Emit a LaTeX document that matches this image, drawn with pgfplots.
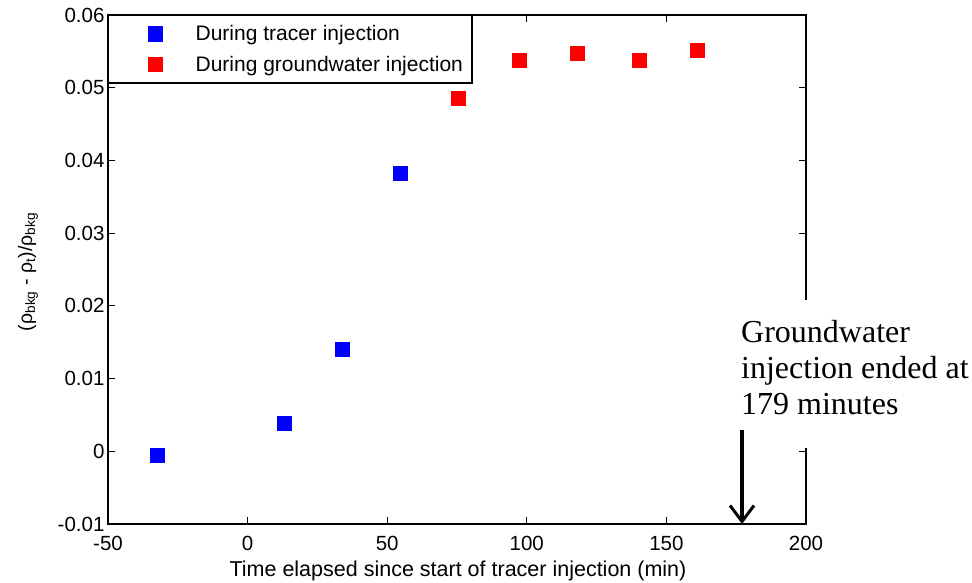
\documentclass[border=0pt]{standalone}
\usepackage{fontspec}
\setmainfont{Liberation Sans}
\newfontfamily\timesfont{Liberation Serif}
\usepackage{pgfplots}
\pgfplotsset{compat=1.18}
\usetikzlibrary{arrows.meta}
\begin{document}
\begin{tikzpicture}
\begin{axis}[
  at={(108pt,-524pt)}, anchor=south west,
  width=698pt, height=509pt, scale only axis,
  xmin=-50, xmax=200, ymin=-0.01, ymax=0.06,
  xtick={-50,0,50,100,150,200},
  ytick={-0.01,0,0.01,0.02,0.03,0.04,0.05,0.06},
  scaled y ticks=false, scaled x ticks=false,
  yticklabel style={/pgf/number format/fixed,/pgf/number format/precision=2},
  /pgf/number format/assume math mode=true,
  tick align=inside, major tick length=7pt,
  axis line style={line width=1.3pt},
  every tick/.style={black, line width=1pt},
  ticklabel style={font=\fontsize{20.5}{24}\selectfont},
  xticklabel style={yshift=-9pt},
  clip=false,
  legend style={at={(rel axis cs:0,1)}, anchor=north west, draw=black, line width=1.3pt, fill=white,
    font=\fontsize{21}{24}\selectfont, inner xsep=2pt, inner ysep=3pt,
    nodes={inner xsep=7pt, inner ysep=7pt}},
  legend cell align=left,
  legend image code/.code={\path[draw=none,fill=none] (0pt,-5pt) rectangle (78pt,5pt); \draw[#1] plot coordinates {(45pt,0pt)};},
]
\addplot[only marks, mark=square*, mark size=7pt, color=blue, mark options={fill=blue, draw=blue}] coordinates {
(-32.3,-0.00047) (13.0,0.00385) (33.8,0.01407) (54.6,0.03827)
};
\addlegendentry{During tracer injection}
\addplot[only marks, mark=square*, mark size=7pt, color=red, mark options={fill=red, draw=red}] coordinates {
(75.4,0.04858) (97.1,0.05381) (118.2,0.05473) (140.1,0.05381) (161.2,0.05518)
};
\addlegendentry{During groundwater injection}
\end{axis}
% white box covering part of the right frame, annotation text and arrow
\fill[white] (735pt,-300pt) rectangle (972pt,-448pt);
\node[anchor=north west, inner sep=0pt, align=left, font=\timesfont\fontsize{32}{36}\selectfont] at (741pt,-320pt)
  {Groundwater\\injection ended at\\179 minutes};
\draw[line width=4pt, -{Straight Barb[length=16pt,width=24pt,line width=3pt]}] (742pt,-430pt) -- (742pt,-524pt);
% axis labels
\node[anchor=base, font=\fontsize{21.5}{24}\selectfont] at (458pt,-576pt)
  {Time elapsed since start of tracer injection (min)};
\node[rotate=90, anchor=center, font=\fontsize{19.5}{22}\selectfont] at (28pt,-272pt)
  {(ρ\textsubscript{bkg} - ρ\textsubscript{t})/ρ\textsubscript{bkg}};
\pgfresetboundingbox
\path[use as bounding box] (0pt,0pt) rectangle (972pt,-582pt);
\end{tikzpicture}
\end{document}
